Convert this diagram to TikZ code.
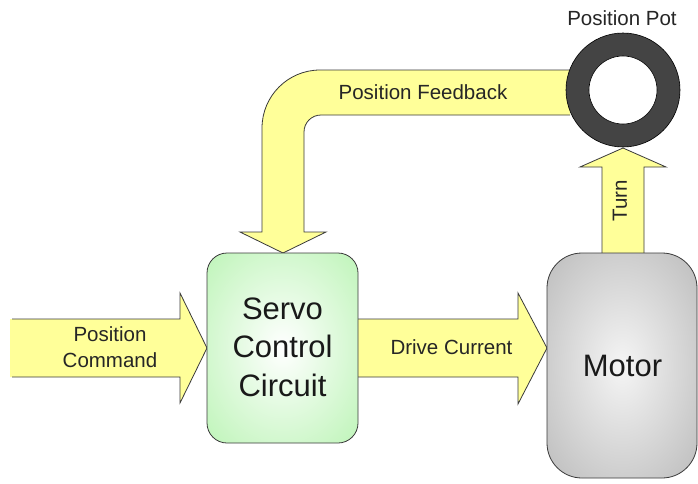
\documentclass[tikz,border=0pt]{standalone}
\usepackage{fontspec}
\setmainfont{Liberation Sans}
\definecolor{arrowfill}{HTML}{FFFF99}
\definecolor{edgecol}{HTML}{3A3A3A}
\definecolor{grn}{HTML}{A4F09C}
\definecolor{gry}{HTML}{A6A6A6}
\definecolor{potcol}{HTML}{444444}
\pgfdeclareradialshading{greenrad}{\pgfpointorigin}{color(0bp)=(white); color(50bp)=(grn); color(80bp)=(grn)}
\pgfdeclareradialshading{grayrad}{\pgfpointorigin}{color(0bp)=(white!96!black); color(50bp)=(gry); color(80bp)=(gry)}
\tikzset{
  bigarrow/.style={fill=arrowfill, draw=edgecol, line width=0.8pt, line join=miter},
  arrowfillonly/.style={fill=arrowfill},
  arrowedge/.style={draw=edgecol, line width=0.8pt, line join=miter},
  smalllabel/.style={font=\fontsize{20.5}{26}\selectfont, text=black!85, align=center, inner sep=0pt},
  biglabel/.style={font=\fontsize{31}{38.5}\selectfont, text=black!90, align=center, inner sep=0pt},
}
\begin{document}
\begin{tikzpicture}[x=1pt,y=-1pt]
\useasboundingbox (0,0) rectangle (698,483);
\fill[white] (0,0) rectangle (698,483);

% Position Command arrow
\fill[arrowfillonly] (10,319) -- (180,319) -- (180,293) -- (207,348) -- (180,403) -- (180,377) -- (10,377) -- cycle;
\draw[arrowedge] (12,319) -- (180,319) -- (180,293) -- (207,348) -- (180,403) -- (180,377) -- (12,377);

% Drive Current arrow
\fill[arrowfillonly] (350,319) -- (518,319) -- (518,293) -- (547,348) -- (518,404) -- (518,377) -- (350,377) -- cycle;
\draw[arrowedge] (350,319) -- (518,319) -- (518,293) -- (547,348) -- (518,404) -- (518,377) -- (350,377);

% Turn arrow
\draw[bigarrow] (602,265) -- (602,167) -- (580,167) -- (623,148) -- (666,167) -- (644,167) -- (644,265);

% Position Feedback arrow
\draw[bigarrow] (570,70) -- (320,70) .. controls (288,70) and (262,96) .. (262,128)
  -- (262,232) -- (240,232) -- (283,253) -- (326,232) -- (304,232) -- (304,132)
  .. controls (304,122.6) and (311.6,115) .. (321,115) -- (570,115);

% Servo box
\path[shading=greenrad, draw=edgecol, line width=0.8pt, rounded corners=20pt]
  (207,253) rectangle (358,443);
\node[biglabel] (servo) at (282.5,347) {Servo\\Control\\Circuit};

% Motor
\path[shading=grayrad, draw=edgecol, line width=0.8pt, rounded corners=35pt]
  (547,253) rectangle (697,478);
\node[biglabel] (motor) at (622.5,366) {Motor};

% Position Pot
\fill[potcol, draw=black, line width=0.6pt] (623,90) circle[radius=57];
\fill[white, draw=black, line width=0.6pt] (623,90) circle[radius=34];
\node[smalllabel] (potlabel) at (622,18) {Position Pot};

% labels
\node[smalllabel] (cmd) at (110,347) {Position\\Command};
\node[smalllabel] (drive) at (451.5,347) {Drive Current};
\node[smalllabel] (fb) at (423,92) {Position Feedback};
\node[smalllabel, rotate=90] (turn) at (620,201) {Turn};
\end{tikzpicture}
\end{document}
